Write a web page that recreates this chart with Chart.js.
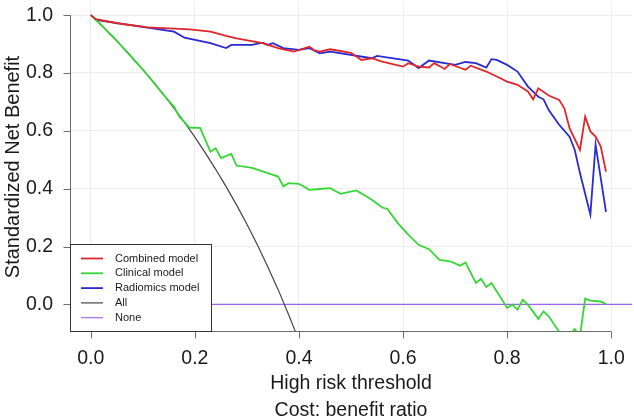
<!DOCTYPE html>
<html>
<head>
<meta charset="utf-8">
<script src="https://cdn.jsdelivr.net/npm/chart.js@4.4.0/dist/chart.umd.min.js"></script>
<style>
  html, body { margin: 0; padding: 0; background: #fff; }
  #wrap { width: 634px; height: 416px; }
</style>
</head>
<body>
<div id="wrap"><canvas id="dcaChart" width="634" height="416"></canvas></div>
<script>
// valores (umbral, beneficio neto estandarizado)
const xTicks = [0, 0.2, 0.4, 0.6, 0.8, 1.0];
const yTicks = [0, 0.2, 0.4, 0.6, 0.8, 1.0];

const combinedX = [0, 0.01, 0.05, 0.11, 0.19, 0.23, 0.26, 0.28, 0.33, 0.36, 0.39, 0.42, 0.43, 0.44, 0.46, 0.50, 0.52, 0.54, 0.56, 0.60, 0.61, 0.63, 0.65, 0.66, 0.68, 0.69, 0.72, 0.73, 0.76, 0.78, 0.80, 0.82, 0.84, 0.85, 0.86, 0.88, 0.90, 0.91, 0.92, 0.94, 0.95, 0.96, 0.97, 0.98, 0.99];
const combinedY = [1.0, 0.986, 0.972, 0.958, 0.951, 0.943, 0.928, 0.920, 0.903, 0.886, 0.874, 0.891, 0.878, 0.874, 0.882, 0.870, 0.845, 0.851, 0.839, 0.822, 0.834, 0.822, 0.819, 0.834, 0.814, 0.831, 0.811, 0.825, 0.805, 0.788, 0.770, 0.759, 0.736, 0.709, 0.747, 0.722, 0.707, 0.678, 0.609, 0.534, 0.649, 0.598, 0.580, 0.546, 0.459];

const clinicalX = [0, 0.02, 0.05, 0.10, 0.14, 0.16, 0.17, 0.19, 0.20, 0.21, 0.23, 0.24, 0.25, 0.27, 0.28, 0.31, 0.34, 0.36, 0.37, 0.38, 0.40, 0.42, 0.44, 0.46, 0.48, 0.51, 0.53, 0.54, 0.56, 0.57, 0.59, 0.61, 0.63, 0.65, 0.67, 0.69, 0.71, 0.72, 0.74, 0.75, 0.76, 0.77, 0.80, 0.81, 0.82, 0.83, 0.84, 0.86, 0.87, 0.88, 0.90, 0.92, 0.93, 0.94, 0.95, 0.96, 0.98, 0.99];
const clinicalY = [1.0, 0.966, 0.911, 0.812, 0.724, 0.683, 0.650, 0.610, 0.611, 0.610, 0.528, 0.540, 0.506, 0.520, 0.480, 0.472, 0.454, 0.442, 0.408, 0.419, 0.417, 0.396, 0.399, 0.402, 0.382, 0.394, 0.373, 0.362, 0.335, 0.330, 0.281, 0.241, 0.206, 0.191, 0.154, 0.149, 0.134, 0.145, 0.074, 0.088, 0.060, 0.074, -0.012, -0.001, -0.018, 0.016, -0.001, -0.050, -0.024, -0.041, -0.095, -0.110, -0.085, -0.110, 0.020, 0.013, 0.010, 0.001];

const radiomicsX = [0, 0.01, 0.08, 0.16, 0.18, 0.23, 0.26, 0.27, 0.31, 0.33, 0.34, 0.35, 0.37, 0.40, 0.42, 0.44, 0.46, 0.54, 0.55, 0.61, 0.63, 0.65, 0.70, 0.72, 0.74, 0.76, 0.77, 0.78, 0.80, 0.82, 0.84, 0.86, 0.87, 0.88, 0.90, 0.92, 0.93, 0.94, 0.96, 0.97, 0.99];
const radiomicsY = [1.0, 0.984, 0.965, 0.943, 0.922, 0.903, 0.886, 0.897, 0.897, 0.905, 0.897, 0.903, 0.886, 0.880, 0.886, 0.868, 0.874, 0.851, 0.859, 0.843, 0.817, 0.843, 0.828, 0.838, 0.834, 0.819, 0.848, 0.845, 0.828, 0.805, 0.753, 0.718, 0.709, 0.672, 0.621, 0.580, 0.534, 0.454, 0.310, 0.552, 0.320];

const allX = [0, 0.02, 0.04, 0.06, 0.08, 0.10, 0.12, 0.14, 0.16, 0.18, 0.20, 0.22, 0.24, 0.26, 0.28, 0.30, 0.32, 0.34, 0.36, 0.38, 0.40];
const allY = [1.0, 0.966, 0.930, 0.892, 0.853, 0.812, 0.770, 0.725, 0.678, 0.629, 0.578, 0.524, 0.467, 0.407, 0.344, 0.277, 0.206, 0.130, 0.051, -0.035, -0.125];

const noneX = [-0.04, 1.04];
const noneY = [0, 0];

const etiquetas = ["Combined model", "Clinical model", "Radiomics model", "All", "None"];
const colores = ["#e0262b", "#35d635", "#2a2ad2", "#444444", "#9b62ea"];
const grosores = [1.8, 1.8, 1.8, 1.2, 1.1];

function puntos(xs, ys) {
    return xs.map(function(x, i) { return { x: x, y: ys[i] }; });
}

const series = [
    puntos(combinedX, combinedY),
    puntos(clinicalX, clinicalY),
    puntos(radiomicsX, radiomicsY),
    puntos(allX, allY),
    puntos(noneX, noneY)
];

const largoTick = 7;

// ejes estilo R: linea solo entre primer y ultimo tick, marcas hacia fuera
const ejesR = {
    id: 'ejesR',
    afterDatasetsDraw(chart) {
        const ctx = chart.ctx;
        const sx = chart.scales.x, sy = chart.scales.y;
        const area = chart.chartArea;
        const bx = area.bottom + 0.5, lx0 = area.left + 0.5;
        ctx.save();
        ctx.strokeStyle = '#6b6b6b';
        ctx.lineWidth = 1;
        ctx.beginPath();
        ctx.moveTo(sx.getPixelForValue(xTicks[0]), bx);
        ctx.lineTo(sx.getPixelForValue(xTicks[xTicks.length - 1]), bx);
        ctx.moveTo(lx0, sy.getPixelForValue(yTicks[0]));
        ctx.lineTo(lx0, sy.getPixelForValue(yTicks[yTicks.length - 1]));
        xTicks.forEach(function(v) {
            const px = Math.round(sx.getPixelForValue(v)) + 0.5;
            ctx.moveTo(px, bx);
            ctx.lineTo(px, bx + largoTick);
        });
        yTicks.forEach(function(v) {
            const py = Math.round(sy.getPixelForValue(v)) + 0.5;
            ctx.moveTo(lx0, py);
            ctx.lineTo(lx0 - largoTick, py);
        });
        ctx.stroke();

        // leyenda en la esquina inferior izquierda
        const lx = area.left, lb = area.bottom;
        const w = 141, h = 87, paso = 14.8;
        ctx.fillStyle = '#ffffff';
        ctx.fillRect(lx, lb - h, w, h);
        ctx.strokeStyle = '#333333';
        ctx.strokeRect(lx + 0.5, lb - h + 0.5, w, h);
        ctx.font = '11px "Liberation Sans", Arial, sans-serif';
        ctx.textBaseline = 'middle';
        chart.data.datasets.forEach(function(ds, i) {
            const yy = lb - h + 14.5 + i * paso;
            ctx.strokeStyle = ds.borderColor;
            ctx.lineWidth = ds.borderWidth;
            ctx.beginPath();
            ctx.moveTo(lx + 11, yy);
            ctx.lineTo(lx + 33, yy);
            ctx.stroke();
            ctx.fillStyle = '#1a1a1a';
            ctx.fillText(ds.label, lx + 45, yy);
        });
        ctx.restore();
    }
};

// sin relleno extra para las etiquetas de los extremos
function sinRelleno(axis) {
    axis.paddingTop = 0;
    axis.paddingBottom = 0;
    axis.paddingLeft = 0;
    axis.paddingRight = 0;
}

const fuente = '"Liberation Sans", Arial, sans-serif';

new Chart(document.getElementById('dcaChart').getContext('2d'), {
    type: 'line',
    data: {
        datasets: series.map(function(d, i) {
            return {
                label: etiquetas[i],
                data: d,
                borderColor: colores[i],
                backgroundColor: colores[i],
                borderWidth: grosores[i],
                pointRadius: 0,
                tension: 0,
                fill: false
            };
        })
    },
    options: {
        responsive: false,
        animation: false,
        layout: { padding: { top: 3, right: 2, left: 0, bottom: 0 } },
        plugins: {
            legend: { display: false },
            tooltip: { enabled: false }
        },
        scales: {
            x: {
                type: 'linear',
                min: -0.04,
                max: 1.04,
                afterBuildTicks: function(axis) {
                    axis.ticks = xTicks.map(function(v) { return { value: v }; });
                },
                afterFit: function(axis) { axis.height = 85; sinRelleno(axis); },
                grid: { color: '#ededed', lineWidth: 1, drawTicks: false },
                border: { display: false },
                ticks: {
                    color: '#1a1a1a',
                    padding: 16,
                    maxRotation: 0,
                    font: { family: fuente, size: 19.5 },
                    callback: function(v) { return v.toFixed(1); }
                },
                title: {
                    display: true,
                    text: ['High risk threshold', 'Cost: benefit ratio'],
                    color: '#1a1a1a',
                    font: { family: fuente, size: 19.5, lineHeight: 1.38 },
                    padding: { top: 0, bottom: -8 }
                }
            },
            y: {
                type: 'linear',
                min: -0.092,
                max: 1.042,
                afterBuildTicks: function(axis) {
                    axis.ticks = yTicks.map(function(v) { return { value: v }; });
                },
                afterFit: function(axis) { axis.width = 70; sinRelleno(axis); },
                grid: { color: '#ededed', lineWidth: 1, drawTicks: false },
                border: { display: false },
                ticks: {
                    color: '#1a1a1a',
                    padding: 17,
                    font: { family: fuente, size: 19.5 },
                    callback: function(v) { return v.toFixed(1); }
                },
                title: {
                    display: true,
                    text: 'Standardized Net Benefit',
                    color: '#1a1a1a',
                    font: { family: fuente, size: 20 },
                    padding: { top: 1, bottom: 0 }
                }
            }
        }
    },
    plugins: [ejesR]
});
</script>
</body>
</html>
